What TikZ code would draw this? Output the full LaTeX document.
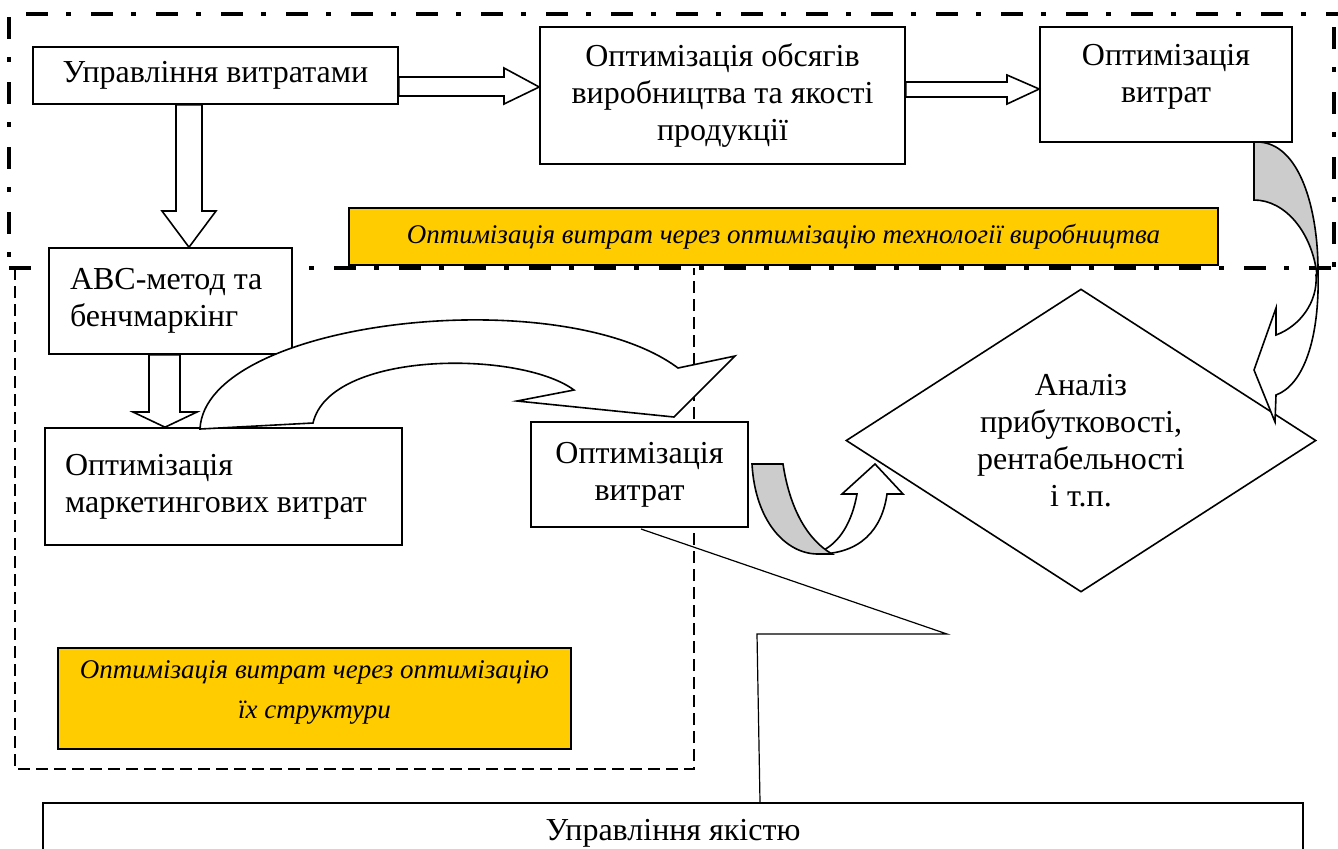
\documentclass[tikz,border=0pt]{standalone}
\usepackage{fontspec}
\setmainfont{Liberation Serif}
\usetikzlibrary{shapes.geometric, calc}
\definecolor{banner}{HTML}{FFCC00}
\definecolor{ribbon}{HTML}{CCCCCC}
\tikzstyle{whitebox} = [rectangle, draw=black, line width=0.8pt, fill=white, inner sep=0pt, align=center, font=\fontsize{16}{18.5}\selectfont]
\tikzstyle{yellowbox} = [rectangle, draw=black, line width=0.8pt, fill=banner, inner sep=0pt, align=center, font=\fontsize{13.5}{20}\selectfont\itshape]
\tikzstyle{plaintext} = [align=center, font=\fontsize{16}{18.5}\selectfont]
\tikzstyle{italictext} = [align=center, font=\fontsize{13.5}{20}\selectfont\itshape]
\tikzstyle{hollow} = [draw=black, line width=0.8pt, fill=white, line join=miter]
\tikzstyle{shade} = [draw=black, line width=0.8pt, fill=ribbon]
\tikzstyle{bigframe} = [line width=2pt, dash pattern=on 11pt off 9pt on 2.5pt off 10pt]
\tikzstyle{smallframe} = [line width=0.7pt, dash pattern=on 6pt off 3pt]
\tikzstyle{callout} = [line width=0.6pt]

\begin{document}
\begin{tikzpicture}[x=0.5pt, y=-0.5pt]
  \useasboundingbox (0,0) rectangle (1338,848);
  \clip (0,0) rectangle (1338,848);
  % frames
  \draw [bigframe] (26,14) -- (1338,14);
  \draw [bigframe] (1334,27) -- (1334,270);
  \draw [bigframe] (9,17) -- (9,262);
  \draw [bigframe] (9,268) -- (1336,268);
  \draw [smallframe] (15,268) -- (15,769) -- (694,769) -- (694,268);
  % banners
  \node (techbanner) [yellowbox, minimum width=434.5pt, minimum height=28.5pt] at (783.5,236.5) {Оптимізація витрат через оптимізацію технології виробництва};
  \node (structbanner) [yellowbox, minimum width=256.5pt, minimum height=50.5pt, label={[italictext, yshift=3pt]center:Оптимізація витрат через оптимізацію\\їх структури}] at (314.5,698.5) {};
  % boxes
  \node (mgmt) [whitebox, minimum width=182.5pt, minimum height=28.5pt] at (215.5,75.5) {Управління витратами};
  \node (volume) [whitebox, minimum width=182.5pt, minimum height=68.5pt] at (722.5,95.5) {Оптимізація обсягів\\виробництва та якості\\продукції};
  \node (costtop) [whitebox, minimum width=126pt, minimum height=57.5pt, label={[plaintext, yshift=4pt]center:Оптимізація\\витрат}] at (1166,84.5) {};
  \node (abc) [whitebox, minimum width=121.5pt, minimum height=53pt, text width=100.5pt, align=flush left] at (170.5,301) {ABC-метод та\\бенчмаркінг};
  \node (market) [whitebox, minimum width=178.5pt, minimum height=58.5pt, text width=158.5pt, align=flush left] at (223.5,486.5) {Оптимізація\\маркетингових витрат};
  \node (costmid) [whitebox, minimum width=108.5pt, minimum height=52.5pt] at (639.5,474.5) {Оптимізація\\витрат};
  \node (profit) [diamond, aspect=1.55, draw=black, line width=0.8pt, fill=white, minimum width=235pt, minimum height=151.5pt, inner sep=0pt, plaintext] at (1081,440.5) {Аналіз\\прибутковості,\\рентабельності\\і т.п.};
  \node (quality) [whitebox, anchor=north, minimum width=630pt, inner ysep=8pt, text height=11pt, text depth=40pt] at (673,802) {Управління якістю};
  % straight block arrows
  \draw [hollow] (176,0 |- mgmt.south) -- (176,211) -- (162,211) -- (189,0 |- abc.north) -- (216,211) -- (202,211) -- (202,0 |- mgmt.south) -- cycle;
  \draw [hollow] (mgmt.east |- 0,77) -- (504,77) -- (504,68) -- (volume.west |- 0,87) -- (504,104) -- (504,96) -- (mgmt.east |- 0,96) -- cycle;
  \draw [hollow] (volume.east |- 0,82) -- (1007,82) -- (1007,75) -- (costtop.west |- 0,89) -- (1007,104) -- (1007,97) -- (volume.east |- 0,97) -- cycle;
  \draw [hollow] (149,0 |- abc.south) -- (149,412) -- (133,412) -- (165,0 |- market.north) -- (197,412) -- (180,412) -- (180,0 |- abc.south) -- cycle;
  % curved arrow from marketing costs
  \draw [hollow] (200,429) .. controls (205,320) and (560,280) .. (678,368) -- (735,356) -- (674,417) -- (517,401) -- (574,390) .. controls (520,350) and (330,350) .. (313,423) -- cycle;
  % callout to quality
  \coordinate (tail) at (641,529);
  \draw [callout] (tail) -- (947,634) -- (757,634) -- (760,0 |- quality.north);
  % u-turn arrow to the diamond
  \draw [hollow] (818,554) .. controls (860,554) and (882,530) .. (887,494) -- (903,494) -- (875,464) -- (842,494) -- (857,494) .. controls (852,522) and (840,542) .. (822,551) -- cycle;
  \draw [shade] (752,464) -- (783,464) .. controls (790,510) and (808,540) .. (832,554) -- (818,554) .. controls (785,554) and (755,520) .. (752,464) -- cycle;
  % curved arrow from top costs
  \draw [hollow] (1316,275) .. controls (1318,302) and (1300,326) .. (1276,335) -- (1276,308) -- (1254,370) -- (1275,422) -- (1276,395) .. controls (1303,385) and (1320,340) .. (1318,270) -- cycle;
  \draw [shade] (1254,142) -- (1254,200) .. controls (1285,200) and (1312,232) .. (1317,275) -- (1318,270) .. controls (1318,210) and (1300,142) .. (1257,142) -- cycle;
\end{tikzpicture}
\end{document}
